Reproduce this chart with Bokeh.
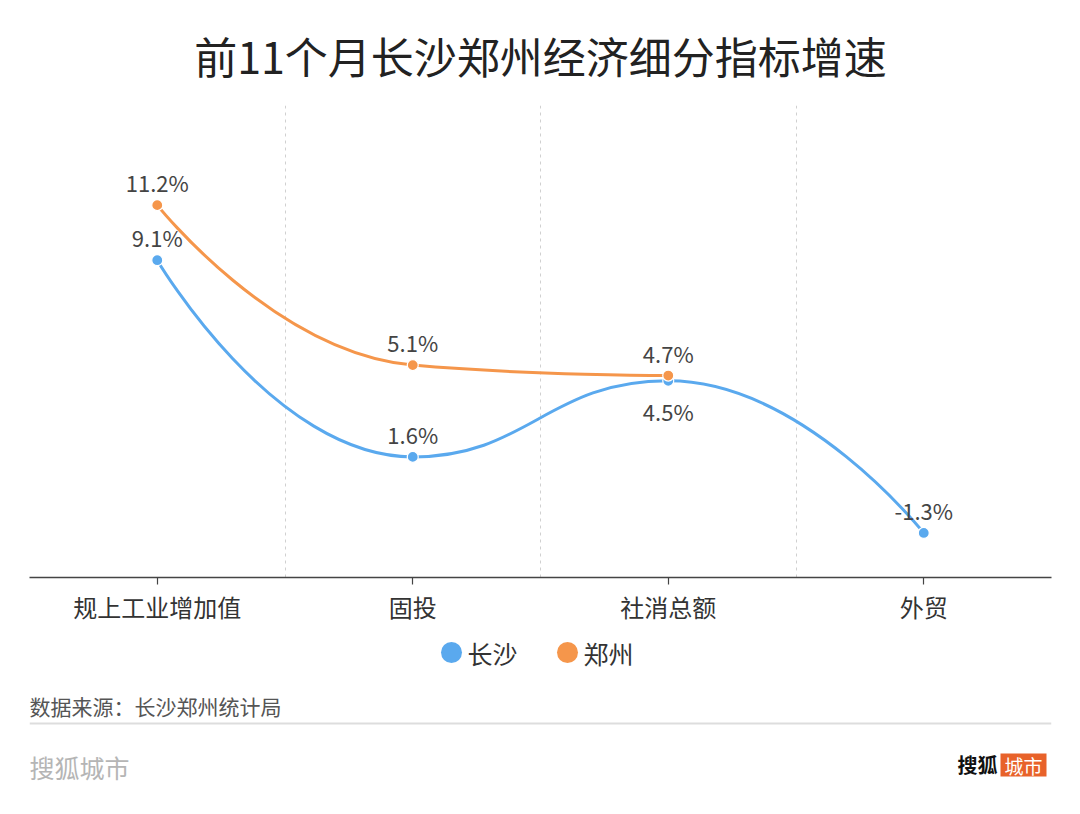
import math
from bokeh.plotting import figure
from bokeh.models import (Range1d, FixedTicker, ColumnDataSource, Column)
from bokeh.core.properties import value
from bokeh.embed import file_html
from bokeh.resources import INLINE

# ---------------- data ----------------
categories = ["规上工业增加值", "固投", "社消总额", "外贸"]
changsha = [9.1, 1.6, 4.5, -1.3]
zhengzhou = [11.2, 5.1, 4.7]          # 外贸 not reported
series_names = ["长沙", "郑州"]
changsha_label_side = ["top", "top", "bottom", "top"]
zhengzhou_label_side = ["top", "top", "top"]
title_text = "前11个月长沙郑州经济细分指标增速"
source_text = "数据来源：长沙郑州统计局"
brand_left = "搜狐城市"

# ---------------- styles ----------------
BLUE = "#5AA9EE"
ORANGE = "#F5964B"
FONT = "Noto Sans CJK SC"
W, H_MAIN, H_FOOT = 1080, 630, 184
PX_X, PX_Y = 255.5, 26.22   # pixel per data unit (for smoothing lengths)


def smooth_bezier(xs, ys, smooth=0.5):
    X = [x * PX_X for x in xs]
    Y = [y * PX_Y for y in ys]
    out = dict(x0=[], y0=[], x1=[], y1=[], cx0=[], cy0=[], cx1=[], cy1=[])
    cpx0, cpy0 = X[0], Y[0]
    n = len(X)
    for i in range(1, n):
        px, py = X[i - 1], Y[i - 1]
        x, y = X[i], Y[i]
        ncx = ncy = None
        if i == n - 1:
            cpx1, cpy1 = x, y
        else:
            nx, ny = X[i + 1], Y[i + 1]
            vx, vy = nx - px, ny - py
            l0 = math.hypot(x - px, y - py)
            l1 = math.hypot(nx - x, ny - y)
            r = l1 / (l0 + l1)
            ncx = x + vx * smooth * r
            ncy = y + vy * smooth * r
            ncx = max(min(ncx, max(nx, x)), min(nx, x))
            ncy = max(min(ncy, max(ny, y)), min(ny, y))
            vx, vy = ncx - x, ncy - y
            cpx1 = x - vx * l0 / l1
            cpy1 = y - vy * l0 / l1
            cpx1 = max(min(cpx1, max(px, x)), min(px, x))
            cpy1 = max(min(cpy1, max(py, y)), min(py, y))
            vx, vy = x - cpx1, y - cpy1
            ncx = x + vx * l1 / l0
            ncy = y + vy * l1 / l0
        out["x0"].append(px / PX_X); out["y0"].append(py / PX_Y)
        out["x1"].append(x / PX_X); out["y1"].append(y / PX_Y)
        out["cx0"].append(cpx0 / PX_X); out["cy0"].append(cpy0 / PX_Y)
        out["cx1"].append(cpx1 / PX_X); out["cy1"].append(cpy1 / PX_Y)
        cpx0, cpy0 = ncx, ncy
    return out


p = figure(width=W, height=H_MAIN, output_backend="svg", toolbar_location=None,
           x_range=Range1d(-0.5, 3.5), y_range=Range1d(-3, 15),
           y_axis_location=None, min_border_left=29, min_border_right=29,
           min_border_top=105, min_border_bottom=53, title=title_text)
p.title.align = "center"
p.title.text_font = FONT
p.title.text_font_size = "43px"
p.title.text_font_style = "normal"
p.title.text_color = "#222222"
p.title.standoff = 39
p.outline_line_color = None
p.background_fill_color = "white"
p.border_fill_color = "white"
p.ygrid.visible = False
p.xgrid.ticker = FixedTicker(ticks=[i - 0.5 for i in range(len(categories))])
p.xgrid.grid_line_color = "#d0d0d0"
p.xgrid.grid_line_dash = "3 4"
p.xgrid.grid_line_width = 1

ax = p.xaxis[0]
ax.ticker = FixedTicker(ticks=list(range(len(categories))))
ax.major_label_overrides = {i: c for i, c in enumerate(categories)}
ax.axis_line_color = "#444444"
ax.axis_line_width = 1.6
ax.major_tick_line_color = "#444444"
ax.major_tick_line_width = 1.2
ax.major_tick_out = 7
ax.major_tick_in = 0
ax.minor_tick_out = 0
ax.minor_tick_in = 0
ax.major_label_standoff = 4
ax.major_label_text_font = FONT
ax.major_label_text_font_size = "24px"
ax.major_label_text_color = "#333333"

xs_cs = list(range(len(changsha)))
xs_zz = list(range(len(zhengzhou)))

p.bezier(source=ColumnDataSource(smooth_bezier(xs_cs, changsha)),
         x0="x0", y0="y0", x1="x1", y1="y1", cx0="cx0", cy0="cy0", cx1="cx1", cy1="cy1",
         line_color=BLUE, line_width=3)
p.bezier(source=ColumnDataSource(smooth_bezier(xs_zz, zhengzhou)),
         x0="x0", y0="y0", x1="x1", y1="y1", cx0="cx0", cy0="cy0", cx1="cx1", cy1="cy1",
         line_color=ORANGE, line_width=3)
p.scatter(xs_cs, changsha, size=11, fill_color=BLUE, line_color="white", line_width=1.2)
p.scatter(xs_zz, zhengzhou, size=11, fill_color=ORANGE, line_color="white", line_width=1.2)


def add_labels(xs, ys, sides):
    src = ColumnDataSource(dict(
        x=xs, y=ys, t=[f"{v}%" for v in ys],
        off=[-23 if s == "top" else 30 for s in sides]))
    p.text(x="x", y="y", text="t", source=src, y_offset="off",
           text_align="center", text_baseline="middle",
           text_font=value(FONT), text_font_size="22px", text_color="#444444")


add_labels(xs_cs, changsha, changsha_label_side)
add_labels(xs_zz, zhengzhou, zhengzhou_label_side)

# ---------------- footer: legend, source, brand ----------------
# frame is aligned with the chart frame (x 29..1051 on the page)
f = figure(width=W, height=H_FOOT, output_backend="svg", toolbar_location=None,
           x_range=Range1d(29, 1051), y_range=Range1d(H_MAIN + H_FOOT, H_MAIN),
           x_axis_location=None, y_axis_location=None,
           min_border_left=29, min_border_right=29, min_border_top=0, min_border_bottom=0)
f.outline_line_color = None
f.xgrid.visible = False
f.ygrid.visible = False
f.background_fill_color = "white"
f.border_fill_color = "white"

f.scatter([451, 567], [652, 652], size=21, fill_color=[BLUE, ORANGE], line_color=None)
f.text([467, 583], [652, 652], text=series_names, text_align="left", text_baseline="middle",
       text_font=value(FONT), text_font_size="25px", text_color="#333333")
f.text([29], [705], text=[source_text], text_align="left", text_baseline="middle",
       text_font=value(FONT), text_font_size="21px", text_color="#555555")
f.segment(x0=[29], y0=[723], x1=[1051], y1=[723], line_color="#dddddd", line_width=2)
f.text([29], [766], text=[brand_left], text_align="left", text_baseline="middle",
       text_font=value(FONT), text_font_size="25px", text_color="#b5b5b5")
f.text([997], [764], text=["搜狐"], text_align="right", text_baseline="middle",
       text_font=value(FONT), text_font_size="20px", text_font_style="bold", text_color="#111111")
f.quad(left=[1000], right=[1046], top=[753], bottom=[776], fill_color="#E8622A", line_color=None)
f.text([1023], [765], text=["城市"], text_align="center", text_baseline="middle",
       text_font=value(FONT), text_font_size="19px", text_color="white")

layout = Column(p, f, spacing=0)
open("out.html", "w").write(file_html(layout, INLINE))
